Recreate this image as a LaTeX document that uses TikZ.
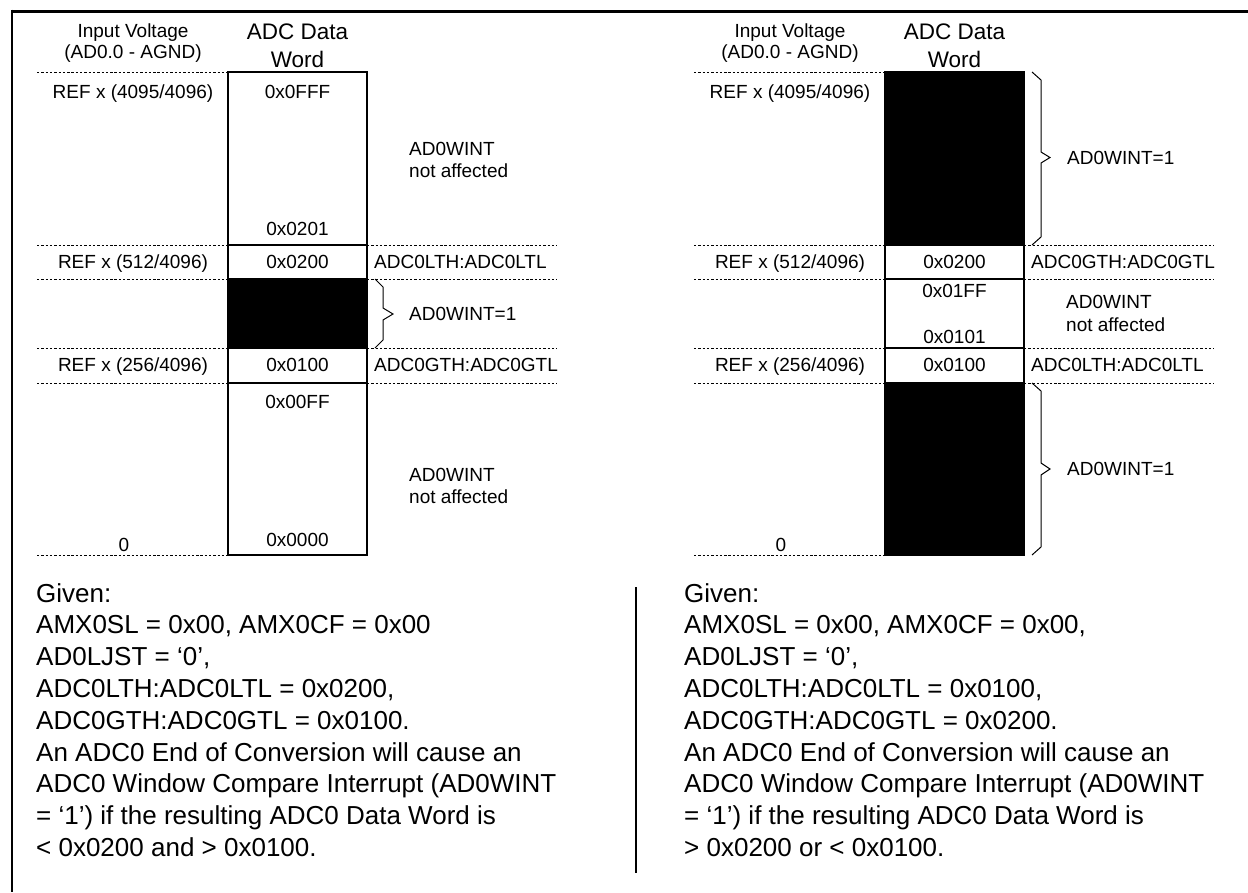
\documentclass[tikz,border=0pt]{standalone}
\usepackage{fontspec}
\setmainfont{Liberation Sans}
\begin{document}
\begin{tikzpicture}[x=1pt,y=-1pt,
  lbl/.style={font=\fontsize{19}{22}\selectfont, inner sep=0pt, anchor=base},
  lblL/.style={lbl, anchor=base west},
  hdr/.style={font=\fontsize{22.5}{26}\selectfont, inner sep=0pt, anchor=base},
  body/.style={font=\fontsize{26}{31.8}\selectfont, inner sep=0pt, anchor=base west},
  dline/.style={dash pattern=on 2.4pt off 1.9pt, line width=0.9pt},
  boxline/.style={line width=1.3pt},
  bracestyle/.style={line width=1pt, line join=miter},
  frame/.style={line width=3pt},
  sep/.style={line width=2.5pt}
]
\useasboundingbox (0,0) rectangle (1248,892);

% outer frame (top and left edges)
\coordinate (FTL) at (12,11);
\coordinate (FTR) at (1248,11);
\coordinate (FBL) at (12,892);
\draw[frame] (FTL) -- (FTR);
\draw[line width=2.2pt] (12,9.5) -- (FBL);

% middle separator
\coordinate (S1) at (636,587);
\coordinate (S2) at (636,873);
\draw[sep] (S1) -- (S2);

% ================= LEFT DIAGRAM =================
\begin{scope}
  \fill (228,279) rectangle (367,348);
  \draw[boxline] (228,72) rectangle (367,555);
  \foreach \yy in {245,279,348,383} \draw[boxline] (228,\yy) -- (367,\yy);
  \foreach \yy in {72,245,279,348,383,555} \draw[dline] (37,\yy) -- (228,\yy);
  \foreach \yy in {245,279,348,383} \draw[dline] (367,\yy) -- (557,\yy);
  \draw[bracestyle] (375,279) -- (383,287) -- (383,308) -- (393,314) -- (383,320) -- (383,340) -- (375,348);

  \node[lbl] (Liv1) at (133,37) {Input Voltage};
  \node[lbl] (Liv2) at (133,58) {(AD0.0 - AGND)};
  \node[hdr] (Ldw1) at (297.5,39.5) {ADC Data};
  \node[hdr] (Ldw2) at (297.5,67) {Word};

  \node[lbl] (Lr1) at (133,98.5) {REF x (4095/4096)};
  \node[lbl] (Lv1) at (297.5,98.5) {0x0FFF};
  \node[lblL] (Lna1) at (409,155) {AD0WINT};
  \node[lblL] (Lna2) at (409,177) {not affected};
  \node[lbl] (Lv2) at (297.5,235.5) {0x0201};
  \node[lbl] (Lr2) at (133,268.5) {REF x (512/4096)};
  \node[lbl] (Lv3) at (297.5,268.5) {0x0200};
  \node[lblL] (Lt1) at (374,268.5) {ADC0LTH:ADC0LTL};
  \node[lblL] (Lw1) at (409,320) {AD0WINT=1};
  \node[lbl] (Lr3) at (133,371) {REF x (256/4096)};
  \node[lbl] (Lv4) at (297.5,371) {0x0100};
  \node[lblL] (Lt2) at (374,371) {ADC0GTH:ADC0GTL};
  \node[lbl] (Lv5) at (297.5,408.5) {0x00FF};
  \node[lblL] (Lnb1) at (409,481) {AD0WINT};
  \node[lblL] (Lnb2) at (409,503) {not affected};
  \node[lbl] (Lv6) at (297.5,546) {0x0000};
  \node[lbl] (Lz) at (124,551) {0};
\end{scope}

% ================= RIGHT DIAGRAM =================
\begin{scope}[xshift=657pt]
  \fill (228,72) rectangle (367,245);
  \fill (228,383) rectangle (367,555);
  \draw[boxline] (228,72) rectangle (367,555);
  \foreach \yy in {245,279,348,383} \draw[boxline] (228,\yy) -- (367,\yy);
  \foreach \yy in {72,245,279,348,383,555} \draw[dline] (37,\yy) -- (228,\yy);
  \foreach \yy in {245,279,348,383} \draw[dline] (367,\yy) -- (557,\yy);
  \draw[bracestyle] (375,72) -- (384,80) -- (384,152) -- (393,157.5) -- (384,163) -- (384,237) -- (375,245);
  \draw[bracestyle] (375,383) -- (384,391) -- (384,463) -- (393,469) -- (384,475) -- (384,547) -- (375,555);

  \node[lbl] (Riv1) at (133,37) {Input Voltage};
  \node[lbl] (Riv2) at (133,58) {(AD0.0 - AGND)};
  \node[hdr] (Rdw1) at (297.5,39.5) {ADC Data};
  \node[hdr] (Rdw2) at (297.5,67) {Word};

  \node[lbl] (Rr1) at (133,98.5) {REF x (4095/4096)};
  \node[lblL] (Rw1) at (410,164) {AD0WINT=1};
  \node[lbl] (Rr2) at (133,268.5) {REF x (512/4096)};
  \node[lbl] (Rv1) at (297.5,268.5) {0x0200};
  \node[lblL] (Rt1) at (374,268.5) {ADC0GTH:ADC0GTL};
  \node[lbl] (Rv2) at (297.5,297) {0x01FF};
  \node[lblL] (Rna1) at (409,308) {AD0WINT};
  \node[lblL] (Rna2) at (409,331) {not affected};
  \node[lbl] (Rv3) at (297.5,343) {0x0101};
  \node[lbl] (Rr3) at (133,371) {REF x (256/4096)};
  \node[lbl] (Rv4) at (297.5,371) {0x0100};
  \node[lblL] (Rt2) at (374,371) {ADC0LTH:ADC0LTL};
  \node[lblL] (Rw2) at (410,475) {AD0WINT=1};
  \node[lbl] (Rz) at (124,551) {0};
\end{scope}

% ================= BOTTOM TEXTS =================
\foreach \t [count=\i from 0] in {{Given:},{AMX0SL = 0x00, AMX0CF = 0x00},{AD0LJST = ‘0’,},{ADC0LTH:ADC0LTL = 0x0200,},{ADC0GTH:ADC0GTL = 0x0100.},{An ADC0 End of Conversion will cause an},{ADC0 Window Compare Interrupt (AD0WINT},{= ‘1’) if the resulting ADC0 Data Word is},{< 0x0200 and > 0x0100.}}
  \node[body] (BL\i) at (36,602+31.8*\i) {\t};
\foreach \t [count=\i from 0] in {{Given:},{AMX0SL = 0x00, AMX0CF = 0x00,},{AD0LJST = ‘0’,},{ADC0LTH:ADC0LTL = 0x0100,},{ADC0GTH:ADC0GTL = 0x0200.},{An ADC0 End of Conversion will cause an},{ADC0 Window Compare Interrupt (AD0WINT},{= ‘1’) if the resulting ADC0 Data Word is},{> 0x0200 or < 0x0100.}}
  \node[body] (BR\i) at (684,602+31.8*\i) {\t};
\end{tikzpicture}
\end{document}
